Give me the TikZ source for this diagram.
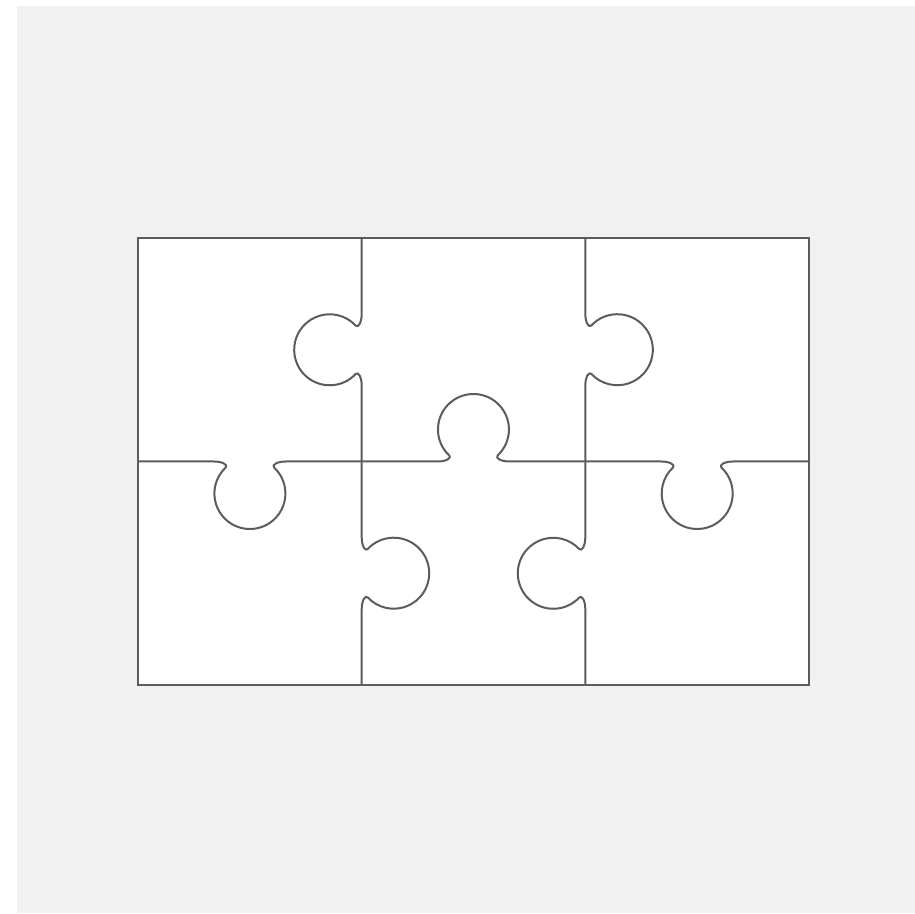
\documentclass[tikz,border=0pt]{standalone}
\usepackage{tikz}
\definecolor{bggray}{HTML}{F1F1F1}
\definecolor{edgegray}{HTML}{5C5C5C}
\tikzset{
  cut/.style={draw=edgegray, line width=2pt, line join=round, line cap=round},
}
% tabbed edge in local coordinates: edge along x from -#1 to #1, tab towards +y
\newcommand{\tabedge}[1]{%
  \draw[cut] (-#1,0) -- (-36,0) .. controls (-27,0) and (-21.64,3.62) .. (-24.2,6)
    arc[start angle=227.1, end angle=-47.1, radius=35.5]
    .. controls (21.64,3.62) and (27,0) .. (36,0) -- (#1,0);%
}
\begin{document}
\begin{tikzpicture}[x=1pt,y=1pt]
  \useasboundingbox (0,0) rectangle (915,913);
  \fill[white] (0,0) rectangle (915,913);
  \fill[bggray] (17,0) rectangle (915,907);
  % board
  \fill[white] (138,228) rectangle (809,675);
  \draw[cut, line cap=butt, line join=miter] (138,228) rectangle (809,675);
  % vertical edges
  \begin{scope}[shift={(361.7,563.25)}, rotate=90]\tabedge{111.75}\end{scope}
  \begin{scope}[shift={(361.7,339.75)}, rotate=-90]\tabedge{111.75}\end{scope}
  \begin{scope}[shift={(585.3,563.25)}, rotate=-90]\tabedge{111.75}\end{scope}
  \begin{scope}[shift={(585.3,339.75)}, rotate=90]\tabedge{111.75}\end{scope}
  % horizontal edges
  \begin{scope}[shift={(249.85,451.5)}, rotate=180]\tabedge{111.85}\end{scope}
  \begin{scope}[shift={(473.5,451.5)}]\tabedge{111.8}\end{scope}
  \begin{scope}[shift={(697.15,451.5)}, rotate=180]\tabedge{111.85}\end{scope}
\end{tikzpicture}
\end{document}
